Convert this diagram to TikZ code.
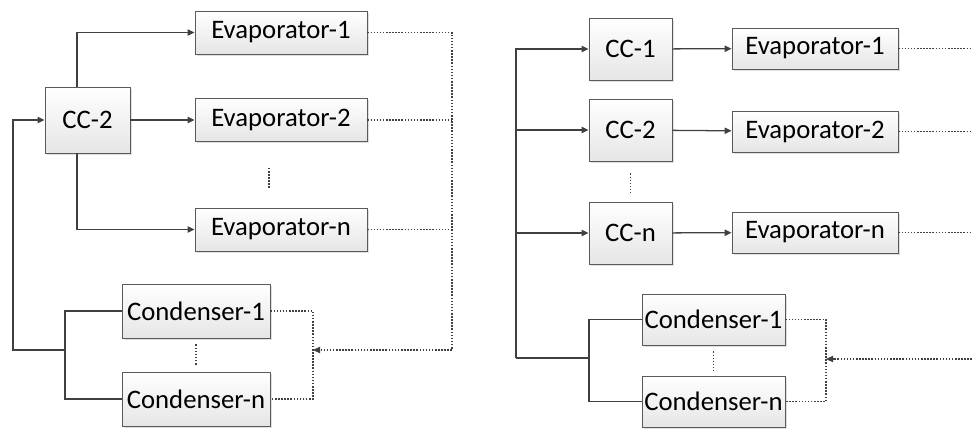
\documentclass[tikz,border=0pt]{standalone}
\usepackage{fontspec}
\setmainfont{Carlito}
\usetikzlibrary{arrows.meta,shadows}
\definecolor{edge}{HTML}{404040}
\definecolor{frame}{HTML}{5A5A5A}
\begin{document}
\begin{tikzpicture}[x=0.025cm,y=-0.025cm,>={Triangle[length=5pt,width=4.5pt]},
    font=\fontsize{19}{22}\selectfont,
    box/.style={draw=frame,line width=0.6pt,top color=white,bottom color=gray!20,inner sep=1pt,
      drop shadow={shadow xshift=1.2pt,shadow yshift=-1.2pt,opacity=0.25}},
    evap/.style={box,minimum width=4.3cm,minimum height=1.075cm},
    comp/.style={box,minimum width=2.125cm,minimum height=1.65cm},
    cond/.style={box,minimum width=3.7cm,minimum height=1.35cm},
    line/.style={draw=edge,line width=0.9pt},
    dots/.style={draw=edge,line width=0.8pt,dash pattern=on 1.1pt off 1.1pt}]
    \useasboundingbox (0,0) rectangle (972,428);

    % left: one compressor, many evaporators
    \node[evap] at (281,32.5) (e1) {Evaporator-1};
    \node[evap] at (281,120) (e2) {Evaporator-2};
    \node[evap] at (281,229.5) (en) {Evaporator-n};
    \node[comp] at (87.5,120) (cc) {CC-2};
    \node[cond] at (196,311) (k1) {Condenser-1};
    \node[cond] at (196,399) (kn) {Condenser-n};
    \coordinate (lb) at (13,350);
    \coordinate (lf) at (65,350);
    \coordinate (lv) at (452,350);
    \coordinate (lq) at (313,350);

    \draw[line,->] ([xshift=-0.26cm]cc.north) |- (e1.west);
    \draw[line,->] (cc) -- (e2);
    \draw[line,->] ([xshift=-0.26cm]cc.south) |- (en.west);
    \draw[line,->] (lf) -- (lb) |- (cc.west);
    \draw[line] (k1.west) -| (lf) |- (kn.west);

    \draw[dots] (e1.east) -| (lv);
    \draw[dots] (e2.east) -- (e2.east -| lv);
    \draw[dots] (en.east) -- (en.east -| lv);
    \draw[dots,->] (lv) -- (lq);
    \draw[dots] (k1.east) -| (lq) |- (kn.east);
    \draw[dots,shorten <=0.65cm,shorten >=0.45cm] ([xshift=-0.3cm]e2.south) -- ([xshift=-0.3cm]en.north);
    \draw[dots,shorten <=0.15cm,shorten >=0.15cm] (k1) -- (kn);

    % right: one compressor per evaporator
    \node[comp,minimum width=2.075cm,minimum height=1.55cm] at (630.5,49) (a1) {CC-1};
    \node[comp,minimum width=2.075cm,minimum height=1.55cm] at (630.5,130) (a2) {CC-2};
    \node[comp,minimum width=2.075cm,minimum height=1.55cm] at (630.5,233) (an) {CC-n};
    \node[evap,minimum width=4.15cm,minimum height=1.025cm] at (815,48.5) (b1) {Evaporator-1};
    \node[evap,minimum width=4.15cm,minimum height=1.025cm] at (815,131.5) (b2) {Evaporator-2};
    \node[evap,minimum width=4.15cm,minimum height=1.025cm] at (815,232.5) (bn) {Evaporator-n};
    \node[cond,minimum width=3.575cm,minimum height=1.275cm] at (713.5,319.5) (m1) {Condenser-1};
    \node[cond,minimum width=3.575cm,minimum height=1.275cm] at (713.5,401.5) (mn) {Condenser-n};
    \coordinate (rb) at (516,358);
    \coordinate (rf) at (589,358);
    \coordinate (rq) at (826,359);
    \coordinate (ro) at (972,359);

    \draw[line,->] (rb) |- (a1.west);
    \draw[line,->] (rb |- a2.west) -- (a2.west);
    \draw[line,->] (rb |- an.west) -- (an.west);
    \draw[line] (rb) -- (rf);
    \draw[line] (m1.west) -| (rf) |- (mn.west);
    \draw[line,->] (a1) -- (b1);
    \draw[line,->] (a2) -- (b2);
    \draw[line,->] (an) -- (bn);

    \draw[dots] (b1.east) -- (b1.east -| ro);
    \draw[dots] (b2.east) -- (b2.east -| ro);
    \draw[dots] (bn.east) -- (bn.east -| ro);
    \draw[dots,->] (ro) -- (rq);
    \draw[dots] (m1.east) -| (rq) |- (mn.east);
    \draw[dots,shorten <=0.3cm,shorten >=0.22cm] (a2) -- (an);
    \draw[dots,shorten <=0.15cm,shorten >=0.13cm] (m1) -- (mn);
\end{tikzpicture}
\end{document}
